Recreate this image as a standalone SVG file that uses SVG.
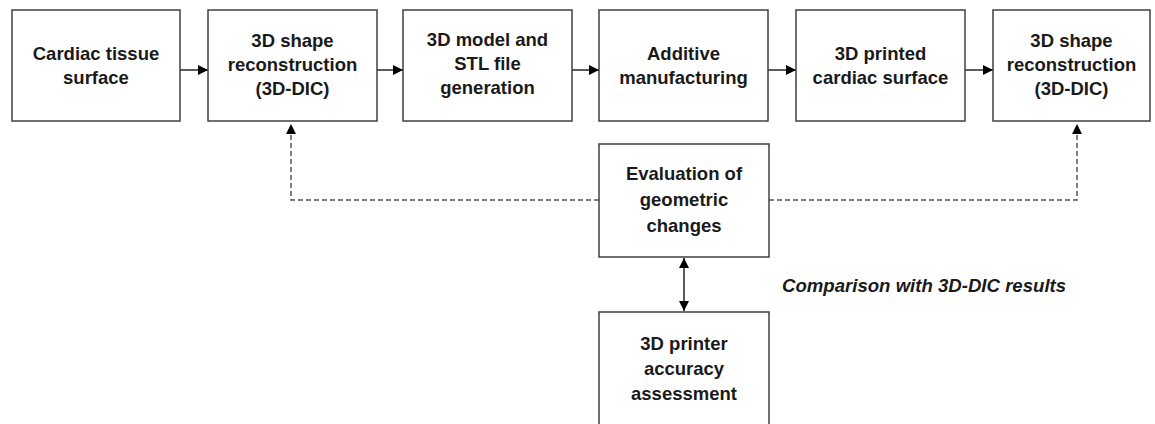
<svg xmlns="http://www.w3.org/2000/svg" width="1155" height="424" viewBox="0 0 1155 424">
<style>
.box{fill:#fff;stroke:#404040;stroke-width:1.5}
.t{font-family:"Liberation Sans",Arial,sans-serif;font-weight:bold;font-size:18.5px;fill:#1a1a1a;text-anchor:middle}
.it{font-family:"Liberation Sans",Arial,sans-serif;font-weight:bold;font-style:italic;font-size:18.6px;fill:#1a1a1a}
.c{fill:none;stroke:#262626;stroke-width:1.5}
.d{fill:none;stroke:#555;stroke-width:1.5;stroke-dasharray:5 3}
</style>
<defs>
<marker id="ah" viewBox="0 0 10 10" refX="10" refY="5" markerWidth="10" markerHeight="10" markerUnits="userSpaceOnUse" orient="auto-start-reverse">
<path d="M0,0 L10,5 L0,10 z" fill="#000"/>
</marker>
</defs>
<rect width="1155" height="424" fill="#fff"/>
<g id="connectors">
<line class="c" x1="180" y1="70" x2="208" y2="70" marker-end="url(#ah)"/>
<line class="c" x1="377" y1="70" x2="403" y2="70" marker-end="url(#ah)"/>
<line class="c" x1="572" y1="70" x2="599" y2="70" marker-end="url(#ah)"/>
<line class="c" x1="768" y1="70" x2="796" y2="70" marker-end="url(#ah)"/>
<line class="c" x1="965" y1="70" x2="993" y2="70" marker-end="url(#ah)"/>
<polyline class="d" points="599,200 291,200 291,124" marker-end="url(#ah)"/>
<polyline class="d" points="769,200 1077,200 1077,124" marker-end="url(#ah)"/>
<line class="c" x1="684" y1="258" x2="684" y2="311" marker-start="url(#ah)" marker-end="url(#ah)"/>
<text class="it" x="782" y="292">Comparison with 3D-DIC results</text>
</g>
<g id="n1"><rect class="box" x="12" y="10" width="168" height="111"/>
<text class="t" x="96" y="60">Cardiac tissue</text><text class="t" x="96" y="84">surface</text></g>
<g id="n2"><rect class="box" x="208" y="10" width="169" height="111"/>
<text class="t" x="292.5" y="47">3D shape</text><text class="t" x="292.5" y="71">reconstruction</text><text class="t" x="292.5" y="95">(3D-DIC)</text></g>
<g id="n3"><rect class="box" x="403" y="10" width="169" height="111"/>
<text class="t" x="487.5" y="46">3D model and</text><text class="t" x="487.5" y="70">STL file</text><text class="t" x="487.5" y="94">generation</text></g>
<g id="n4"><rect class="box" x="599" y="10" width="169" height="111"/>
<text class="t" x="683.5" y="60">Additive</text><text class="t" x="683.5" y="84">manufacturing</text></g>
<g id="n5"><rect class="box" x="796" y="10" width="169" height="111"/>
<text class="t" x="880.5" y="60">3D printed</text><text class="t" x="880.5" y="84">cardiac surface</text></g>
<g id="n6"><rect class="box" x="993" y="10" width="157" height="111"/>
<text class="t" x="1071.5" y="47">3D shape</text><text class="t" x="1071.5" y="71">reconstruction</text><text class="t" x="1071.5" y="95">(3D-DIC)</text></g>
<g id="n7"><rect class="box" x="599" y="144" width="170" height="113"/>
<text class="t" x="684" y="180">Evaluation of</text><text class="t" x="684" y="206">geometric</text><text class="t" x="684" y="232">changes</text></g>
<g id="n8"><rect class="box" x="599" y="312" width="170" height="130"/>
<text class="t" x="684" y="350">3D printer</text><text class="t" x="684" y="375">accuracy</text><text class="t" x="684" y="400">assessment</text></g>
</svg>
